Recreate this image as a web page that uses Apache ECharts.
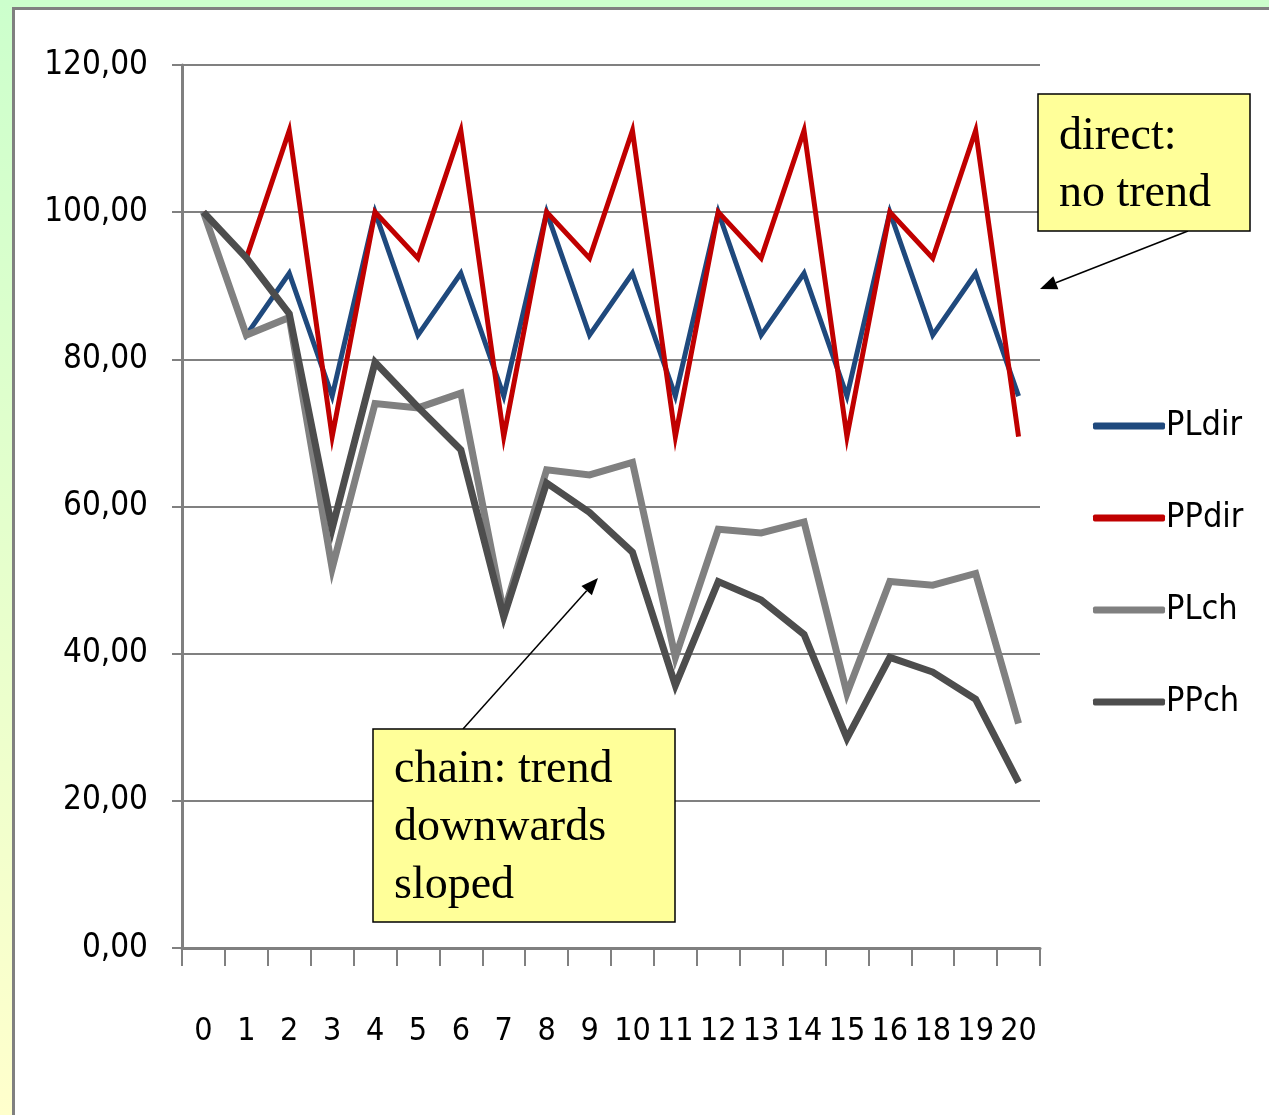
<!DOCTYPE html>
<html><head><meta charset="utf-8">
<script src="https://cdn.jsdelivr.net/npm/echarts@6/dist/echarts.min.js"></script>
<style>html,body{margin:0;padding:0;background:#fff}#c{width:1269px;height:1115px}</style>
</head><body><div id="c"></div>
<script>
var categories = ['0','1','2','3','4','5','6','7','8','9','10','11','12','13','14','15','16','18','19','20'];
var PLdir = [100,83.3,91.7,75,100,83.3,91.7,75,100,83.3,91.7,75,100,83.3,91.7,75,100,83.3,91.7,75];
var PPdir = [100,93.75,111.1,69.5,100,93.75,111.1,69.5,100,93.75,111.1,69.5,100,93.75,111.1,69.5,100,93.75,111.1,69.5];
var PLch = [100,83.3,85.7,51.6,74.0,73.4,75.4,45.5,65.0,64.3,66.0,39.5,56.9,56.4,57.9,34.6,49.8,49.3,50.9,30.5];
var PPch = [100,93.8,86.2,57.0,79.6,73.5,67.7,45.0,63.2,59.2,53.8,35.7,49.8,47.3,42.6,28.5,39.5,37.5,33.8,22.5];
var yTicks = [0,20,40,60,80,100,120];
var seriesNames = ['PLdir','PPdir','PLch','PPch'];
var colors = ['#1f497d','#c00000','#808080','#4d4d4d'];
var widths = [5,5,7,7];

var condensed = '"Liberation Sans Narrow","Arial Narrow","DejaVu Sans Condensed",sans-serif';
var serif = '"Liberation Serif","Times New Roman",serif';

function arrow(x1,y1,x2,y2){
  var dx=x2-x1, dy=y2-y1, L=Math.sqrt(dx*dx+dy*dy), ux=dx/L, uy=dy/L;
  var hl=17, hw=7;
  var bx=x2-ux*hl, by=y2-uy*hl;
  return [
    {type:'line', shape:{x1:x1,y1:y1,x2:bx,y2:by}, style:{stroke:'#000',lineWidth:1.5}, z:20},
    {type:'polygon', shape:{points:[[x2,y2],[bx-uy*hw,by+ux*hw],[bx+uy*hw,by-ux*hw]]}, style:{fill:'#000'}, z:20}
  ];
}

var chart = echarts.init(document.getElementById('c'), null, {renderer:'canvas'});
var data = [PLdir,PPdir,PLch,PPch];
var series = seriesNames.map(function(n,i){
  return {name:n, type:'line', data:data[i], symbol:'none', showSymbol:false, animation:false,
    lineStyle:{color:colors[i], width:widths[i], join:'miter'}, itemStyle:{color:colors[i]}, z:10+i};
});

var graphics = [
  {type:'rect', shape:{x:0,y:0,width:1269,height:8}, style:{fill:'#ccffcc'}, z:1},
  {type:'rect', shape:{x:0,y:0,width:12,height:1115}, style:{fill:{type:'linear',x:0,y:0,x2:0,y2:1,colorStops:[{offset:0,color:'#ccffcc'},{offset:1,color:'#ffffcc'}]}}, z:1},
  {type:'line', shape:{x1:12,y1:8.5,x2:1269,y2:8.5}, style:{stroke:'#808080',lineWidth:3}, z:2},
  {type:'line', shape:{x1:13.5,y1:7,x2:13.5,y2:1115}, style:{stroke:'#808080',lineWidth:3}, z:2},
  {type:'rect', shape:{x:1038,y:94,width:212,height:137}, style:{fill:'#ffff99',stroke:'#000',lineWidth:1.5}, z:30},
  {type:'text', left:1059, top:108, style:{text:'direct:\nno trend', font:'46px '+serif, fill:'#000', lineHeight:57}, z:31},
  {type:'rect', shape:{x:373,y:729,width:302,height:193}, style:{fill:'#ffff99',stroke:'#000',lineWidth:1.5}, z:30},
  {type:'text', left:394, top:741, style:{text:'chain: trend\ndownwards\nsloped', font:'46px '+serif, fill:'#000', lineHeight:58}, z:31}
].concat(arrow(1188,231,1040,289)).concat(arrow(463,729,598,578));

chart.setOption({
  animation:false,
  backgroundColor:'#ffffff',
  grid:{left:182, top:65, right:229, bottom:167, containLabel:false},
  legend:{
    orient:'vertical', left:1088, top:404, itemGap:58, itemWidth:72, itemHeight:7,
    icon:'roundRect',
    textStyle:{fontFamily:condensed, fontSize:34, color:'#000', padding:[0,0,0,-4]},
    data:seriesNames
  },
  xAxis:{
    type:'category', data:categories, boundaryGap:true,
    axisLine:{show:true, lineStyle:{color:'#808080', width:3}},
    axisTick:{show:true, alignWithLabel:false, interval:0, length:18, lineStyle:{color:'#808080', width:2}},
    axisLabel:{interval:0, margin:68, fontFamily:condensed, fontSize:32, color:'#000'},
    splitLine:{show:false}
  },
  yAxis:{
    type:'value', min:0, max:120, interval:20,
    axisLine:{show:true, lineStyle:{color:'#808080', width:3}},
    axisTick:{show:true, length:10, lineStyle:{color:'#808080', width:2}},
    axisLabel:{margin:34, fontFamily:condensed, fontSize:33, color:'#000',
      formatter:function(v){return v.toFixed(2).replace('.',',');}},
    splitLine:{show:true, lineStyle:{color:'#808080', width:2}}
  },
  series:series,
  graphic:graphics
});
</script></body></html>
